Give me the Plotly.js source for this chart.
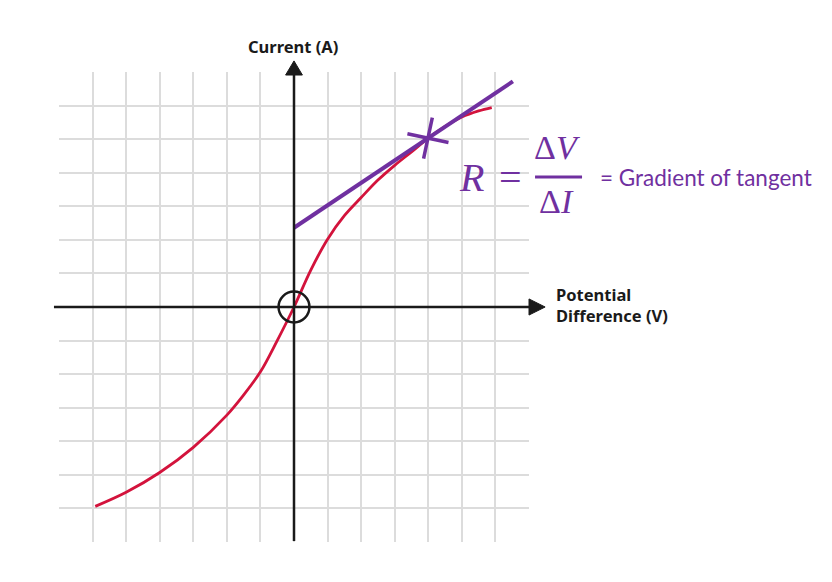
<!DOCTYPE html>
<html>
<head>
<meta charset="utf-8">
<script src="https://cdn.plot.ly/plotly-3.0.1.min.js"></script>
<style>
  html, body { margin: 0; padding: 0; background: #ffffff; }
  #chart { width: 832px; height: 582px; }
</style>
</head>
<body>
<div id="chart"></div>
<script>
// I–V characteristic (arbitrary grid units)
const potentialDifference = [-5.92, -5, -4, -3, -2, -1.5, -1, -0.5, 0, 0.5, 1, 1.5, 2, 2.5, 3, 3.5, 4, 4.5, 5, 5.5, 5.89];
const current             = [-5.94, -5.52, -4.93, -4.18, -3.22, -2.62, -1.93, -1.0, 0.0, 1.1, 2.02, 2.72, 3.26, 3.78, 4.22, 4.62, 5.03, 5.38, 5.66, 5.84, 5.94];

// Tangent drawn at the chosen point
const tangentV = [0, 6.52];
const tangentI = [2.36, 6.72];
const pointV = [3.99];
const pointI = [5.03];

// Grid lines every unit
const gridTicks = [-6, -5, -4, -3, -2, -1, 0, 1, 2, 3, 4, 5, 6];

const X_RANGE = [-7, 7];
const Y_RANGE = [-7, 7];
const PURPLE = '#7030a0';
const RED = '#d3133c';
const INK = '#1a1a1a';

// data units -> paper fraction (for items placed outside the plot area)
const px = u => (u - X_RANGE[0]) / (X_RANGE[1] - X_RANGE[0]);
const py = u => (u - Y_RANGE[0]) / (Y_RANGE[1] - Y_RANGE[0]);

function tri(points) {
  return 'M ' + points.map(p => px(p[0]) + ',' + py(p[1])).join(' L ') + ' Z';
}

const traces = [
  {
    x: potentialDifference, y: current,
    type: 'scatter', mode: 'lines',
    line: { color: RED, width: 2.8, shape: 'spline', smoothing: 1 },
    hoverinfo: 'skip'
  },
  {
    x: tangentV, y: tangentI,
    type: 'scatter', mode: 'lines',
    line: { color: PURPLE, width: 4 },
    hoverinfo: 'skip'
  },
  {
    x: pointV, y: pointI,
    type: 'scatter', mode: 'markers',
    marker: { symbol: 'cross-thin-open', size: 30, angle: 12,
              color: PURPLE, line: { color: PURPLE, width: 3.5 } },
    cliponaxis: false,
    hoverinfo: 'skip'
  }
];

const shapes = [
  // horizontal axis with arrowhead
  { type: 'line', xref: 'paper', yref: 'paper', layer: 'above',
    x0: px(-7.15), x1: px(7.05), y0: py(0), y1: py(0),
    line: { color: INK, width: 2.5 } },
  { type: 'path', xref: 'paper', yref: 'paper', layer: 'above',
    path: tri([[7.0, 0.24], [7.48, 0], [7.0, -0.24]]),
    fillcolor: INK, line: { color: INK, width: 1 } },
  // vertical axis with arrowhead
  { type: 'line', xref: 'paper', yref: 'paper', layer: 'above',
    x0: px(0), x1: px(0), y0: py(-6.97), y1: py(6.95),
    line: { color: INK, width: 2.5 } },
  { type: 'path', xref: 'paper', yref: 'paper', layer: 'above',
    path: tri([[-0.25, 6.91], [0, 7.33], [0.25, 6.91]]),
    fillcolor: INK, line: { color: INK, width: 1 } },
  // ring round the origin
  { type: 'circle', xref: 'x', yref: 'y', layer: 'above',
    x0: -0.46, x1: 0.46, y0: -0.46, y1: 0.46,
    line: { color: INK, width: 2.5 } },
  // fraction bar of the resistance formula
  { type: 'line', xref: 'paper', yref: 'paper', layer: 'above',
    x0: px(7.18), x1: px(8.58), y0: py(3.87), y1: py(3.87),
    line: { color: PURPLE, width: 3 } }
];

const serif = 'Liberation Serif, DejaVu Serif, serif';
const labelFont = { family: 'Noto Sans, DejaVu Sans, sans-serif', size: 16.5, color: INK };

function note(text, u, v, opts) {
  return Object.assign({ text: text, x: px(u), y: py(v), xref: 'paper', yref: 'paper',
    xanchor: 'center', yanchor: 'middle', showarrow: false }, opts);
}

const annotations = [
  note('<b>Current (A)</b>', -0.03, 7.75, { font: labelFont }),
  note('<b>Potential<br>Difference (V)</b>', 7.74, 0.05, { xanchor: 'left', align: 'left', font: labelFont }),
  note('<i>R</i>', 5.28, 3.87, { font: { family: serif, size: 40, color: PURPLE } }),
  note('=', 6.44, 3.87, { font: { family: serif, size: 40, color: PURPLE } }),
  note('Δ<i>V</i>', 7.86, 4.74, { font: { family: serif, size: 34, color: PURPLE } }),
  note('Δ<i>I</i>', 7.83, 3.14, { font: { family: serif, size: 34, color: PURPLE } }),
  note('= Gradient of tangent', 9.06, 3.87, { xanchor: 'left',
    font: { family: 'Lato, Noto Sans, sans-serif', size: 22.5, color: PURPLE } })
];

const axisCommon = {
  tickmode: 'array', tickvals: gridTicks,
  showticklabels: false, ticks: '',
  showgrid: true, gridcolor: '#dcdcdc', gridwidth: 2,
  zeroline: false, showline: false, fixedrange: true
};

const layout = {
  width: 832, height: 582,
  margin: { l: 59, r: 303, t: 72, b: 40 },
  paper_bgcolor: '#ffffff', plot_bgcolor: '#ffffff',
  showlegend: false,
  xaxis: Object.assign({ range: X_RANGE }, axisCommon),
  yaxis: Object.assign({ range: Y_RANGE }, axisCommon),
  shapes: shapes,
  annotations: annotations
};

Plotly.newPlot('chart', traces, layout, { staticPlot: true, displayModeBar: false });
</script>
</body>
</html>
